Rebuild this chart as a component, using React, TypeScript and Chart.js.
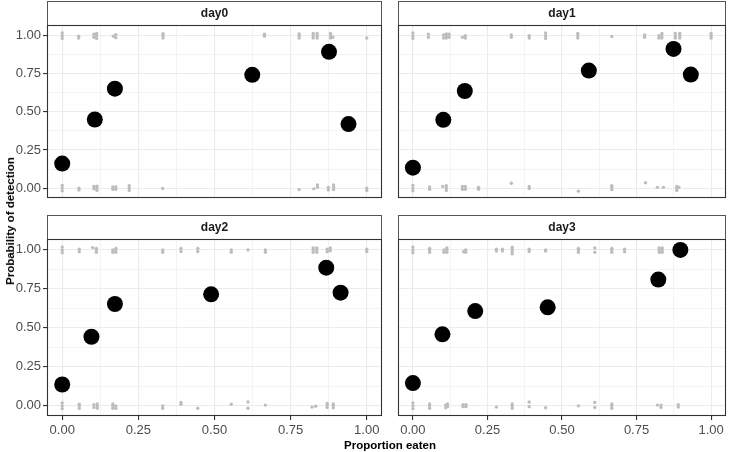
import React, { useEffect, useRef } from "react";
import { Chart, registerables } from "chart.js";

Chart.register(...registerables);

// ---------- data ----------
const facetNames = ["day0", "day1", "day2", "day3"];

const majorTicks = [0, 0.25, 0.5, 0.75, 1];
const minorTicks = [0.125, 0.375, 0.625, 0.875];
const tickLabels = ["0.00", "0.25", "0.50", "0.75", "1.00"];

const xTitle = "Proportion eaten";
const yTitle = "Probability of detection";

// mean detection probability per bin (black points)
const day0Eaten = [0, 0.107, 0.173, 0.624, 0.876, 0.94];
const day0Detect = [0.161, 0.45, 0.652, 0.743, 0.894, 0.42];
const day1Eaten = [0, 0.102, 0.174, 0.59, 0.874, 0.932];
const day1Detect = [0.134, 0.448, 0.637, 0.771, 0.913, 0.745];
const day2Eaten = [0, 0.096, 0.173, 0.489, 0.867, 0.914];
const day2Detect = [0.137, 0.443, 0.653, 0.715, 0.886, 0.726];
const day3Eaten = [0, 0.099, 0.209, 0.452, 0.823, 0.897];
const day3Detect = [0.146, 0.459, 0.608, 0.632, 0.81, 1.0];

// raw jittered observations: [x, y1, y2, ...]
const day0Raw: number[][] = [
  [0, 0.982, 1, 1.018], [0.054, 0.985, 0.997], [0.104, 0.99, 1.01], [0.113, 0.982, 1.0, 1.015],
  [0.168, 0.997], [0.176, 0.987, 1.007], [0.331, 0.985, 1.0, 1.013], [0.664, 0.997, 1.01],
  [0.778, 0.985, 1.0, 1.012], [0.824, 0.985, 1.0, 1.015], [0.837, 0.985, 1.0, 1.015],
  [0.881, 0.985, 1.0, 1.015], [0.889, 0.99], [1.0, 0.985],
  [0, -0.018, 0, 0.018], [0.055, -0.012, 0.0], [0.104, -0.005, 0.01], [0.114, -0.015, 0.0, 0.012],
  [0.166, -0.008, 0.008], [0.176, -0.008, 0.008], [0.22, -0.015, 0.0, 0.015], [0.33, -0.003],
  [0.778, -0.01], [0.826, -0.005], [0.838, 0.005, 0.02], [0.874, -0.012, 0.005],
  [0.891, -0.01, 0.005, 0.02], [1.0, -0.015, 0.0],
];
const day1Raw: number[][] = [
  [0, 0.982, 1.0, 1.018], [0.052, 0.99, 1.01], [0.103, 0.985, 1.005], [0.112, 0.985, 1.0, 1.012],
  [0.121, 0.99, 1.01], [0.166, 0.99], [0.176, 0.985, 1.0], [0.33, 0.99, 1.005], [0.39, 0.985, 1.0],
  [0.445, 0.982, 1.0, 1.018], [0.553, 0.985, 1.0, 1.015], [0.667, 0.995], [0.777, 0.99, 1.005],
  [0.825, 0.985, 1.0], [0.835, 0.985, 1.0, 1.015], [0.88, 0.985, 1.0, 1.015],
  [0.895, 0.985, 1.0, 1.015], [1.0, 0.985, 1.0, 1.015],
  [0, -0.018, 0, 0.018], [0.056, -0.008, 0.008], [0.1, 0.01], [0.112, -0.015, 0.0, 0.015],
  [0.166, -0.008, 0.01], [0.176, -0.008, 0.01], [0.22, -0.008, 0.005], [0.33, 0.032],
  [0.39, -0.003, 0.01], [0.555, -0.02], [0.667, -0.01, 0.005, 0.015], [0.78, 0.035],
  [0.82, 0.005], [0.84, 0.005], [0.885, -0.015, 0.0, 0.01], [0.892, 0.005],
];
const day2Raw: number[][] = [
  [0, 0.982, 1.0, 1.018], [0.056, 0.988, 1.005], [0.1, 1.015], [0.112, 0.985, 1.0, 1.01],
  [0.166, 0.985, 1.0], [0.176, 0.985, 1.0, 1.01], [0.33, 0.985, 1.0], [0.39, 0.99, 1.01],
  [0.445, 0.99, 1.01], [0.555, 0.985, 1.0], [0.61, 1.0], [0.667, 0.985, 1.0],
  [0.824, 0.985, 1.0, 1.012], [0.836, 0.985, 1.0, 1.012], [0.87, 0.988, 1.005],
  [0.88, 0.995, 1.012], [1.0, 0.99, 1.005],
  [0, -0.018, 0, 0.018], [0.056, -0.015, 0.0, 0.01], [0.104, -0.01, 0.008], [0.115, -0.015, 0.0, 0.012],
  [0.166, -0.015, 0.0, 0.012], [0.176, -0.015, 0.0], [0.33, -0.015, 0.0], [0.39, 0.022, 0.01],
  [0.445, -0.015], [0.555, 0.01], [0.61, 0.025, -0.015], [0.667, 0.005], [0.82, -0.008],
  [0.832, -0.002], [0.87, -0.01, 0.005, 0.015], [0.89, -0.012, 0.003, 0.012],
];
const day3Raw: number[][] = [
  [0, 0.982, 1.0, 1.018], [0.056, 0.985, 1.0, 1.01], [0.104, 0.985, 1.0], [0.114, 0.985, 1.0, 1.012],
  [0.17, 0.988], [0.177, 0.985, 1.0], [0.28, 0.993, 1.005], [0.3, 0.993, 1.005],
  [0.333, 0.975, 0.99, 1.005, 1.018], [0.39, 0.99, 1.005], [0.445, 0.993, 1.0],
  [0.555, 0.985, 1.0, 1.01], [0.61, 0.985, 1.012], [0.667, 0.985, 1.0, 1.01], [0.71, 0.988, 1.005],
  [0.826, 0.985, 1.0, 1.012], [0.836, 0.985, 1.0, 1.012],
  [0, -0.018, 0, 0.018], [0.056, -0.015, 0.0, 0.012], [0.11, -0.012, 0.005], [0.116, -0.005, 0.012],
  [0.168, -0.005, 0.008], [0.178, -0.005, 0.008], [0.28, -0.008], [0.333, -0.015, 0.0, 0.012],
  [0.39, 0.025, -0.005], [0.445, -0.012], [0.555, 0.0], [0.61, 0.022, -0.01],
  [0.667, -0.015, 0.0, 0.012], [0.82, 0.005], [0.832, -0.01, 0.005], [0.89, -0.008, 0.008],
];

const facetEaten = [day0Eaten, day1Eaten, day2Eaten, day3Eaten];
const facetDetect = [day0Detect, day1Detect, day2Detect, day3Detect];
const facetRaw = [day0Raw, day1Raw, day2Raw, day3Raw];

// ---------- styling / layout ----------
const FONT = "'Liberation Sans', Arial, Helvetica, sans-serif";
const X_MIN = -0.05, X_MAX = 1.05;
const Y_MIN = -0.065, Y_MAX = 1.07;

type Box = { left: number; top: number; width: number; height: number; pad: any; yW: number; xH: number; showX: boolean; showY: boolean };
const boxes: Box[] = [
  { left: 0, top: 0, width: 390, height: 206, pad: { top: 25, right: 5, bottom: 3, left: 0 }, yW: 47, xH: 0, showX: false, showY: true },
  { left: 390, top: 0, width: 344, height: 206, pad: { top: 25, right: 1, bottom: 3, left: 5 }, yW: 0, xH: 0, showX: false, showY: false },
  { left: 0, top: 206, width: 390, height: 246, pad: { top: 33, right: 5, bottom: 0, left: 0 }, yW: 47, xH: 36, showX: true, showY: true },
  { left: 390, top: 206, width: 344, height: 246, pad: { top: 33, right: 1, bottom: 0, left: 5 }, yW: 0, xH: 36, showX: true, showY: false },
];

const allTicks = [...majorTicks, ...minorTicks].sort((a, b) => a - b);
const isMajor = (v: number) => majorTicks.some((m) => Math.abs(m - v) < 1e-9);
const labelFor = (v: number) => {
  const i = majorTicks.findIndex((m) => Math.abs(m - v) < 1e-9);
  return i >= 0 ? tickLabels[i] : "";
};

const facetPlugin = {
  id: "facetStrip",
  afterDraw(chart: any, _args: any, opts: any) {
    const { ctx, chartArea: a } = chart;
    const stripH = 24;
    ctx.save();
    ctx.fillStyle = "#ffffff";
    ctx.fillRect(a.left, a.top - stripH, a.right - a.left, stripH);
    ctx.strokeStyle = "#555555";
    ctx.lineWidth = 1;
    ctx.strokeRect(a.left + 0.5, a.top - stripH + 0.5, a.right - a.left - 1, stripH);
    ctx.fillStyle = "#1a1a1a";
    ctx.font = `bold 12px ${FONT}`;
    ctx.textAlign = "center";
    ctx.textBaseline = "middle";
    ctx.fillText(opts.title, (a.left + a.right) / 2, a.top - stripH / 2 + 0.5);
    ctx.strokeStyle = "#333333";
    ctx.lineWidth = 1.1;
    ctx.strokeRect(a.left + 0.5, a.top + 0.5, a.right - a.left - 1, a.bottom - a.top - 1);
    ctx.restore();
  },
};

function Facet({ index }: { index: number }) {
  const ref = useRef<HTMLCanvasElement | null>(null);
  const box = boxes[index];
  useEffect(() => {
    if (!ref.current) return;
    const rawPoints: { x: number; y: number }[] = [];
    facetRaw[index].forEach((row) => {
      for (let k = 1; k < row.length; k++) rawPoints.push({ x: row[0], y: row[k] });
    });
    const meanPoints = facetEaten[index].map((x, i) => ({ x, y: facetDetect[index][i] }));
    const chart = new Chart(ref.current, {
      type: "scatter",
      data: {
        datasets: [
          { label: "mean", data: meanPoints, pointRadius: 8, pointHoverRadius: 8, backgroundColor: "#000000", borderWidth: 0 },
          { label: "raw", data: rawPoints, pointRadius: 1.7, pointHoverRadius: 1.7, backgroundColor: "#bdbdbd", borderWidth: 0 },
        ],
      },
      options: {
        animation: false,
        responsive: false,
        maintainAspectRatio: false,
        layout: { padding: box.pad },
        plugins: {
          legend: { display: false },
          tooltip: { enabled: false },
          facetStrip: { title: facetNames[index] },
        } as any,
        scales: {
          x: {
            type: "linear",
            min: X_MIN,
            max: X_MAX,
            afterBuildTicks: (s: any) => { s.ticks = allTicks.map((v) => ({ value: v })); },
            afterFit: (s: any) => { s.height = box.xH; s.paddingLeft = 0; s.paddingRight = 0; },
            border: { display: false },
            grid: {
              color: "#ebebeb",
              lineWidth: (c: any) => (isMajor(c.tick?.value) ? 1.1 : 0.55),
              drawTicks: box.showX,
              tickLength: 4,
              tickColor: (c: any) => (isMajor(c.tick?.value) ? "#333333" : "rgba(0,0,0,0)"),
            },
            ticks: {
              display: box.showX,
              autoSkip: false,
              maxRotation: 0,
              padding: 3,
              color: "#4d4d4d",
              font: { family: FONT, size: 13 },
              callback: (v: any) => labelFor(Number(v)),
            },
          },
          y: {
            type: "linear",
            min: Y_MIN,
            max: Y_MAX,
            afterBuildTicks: (s: any) => { s.ticks = allTicks.map((v) => ({ value: v })); },
            afterFit: (s: any) => { s.width = box.yW; s.paddingTop = 0; s.paddingBottom = 0; },
            border: { display: false },
            grid: {
              color: "#ebebeb",
              lineWidth: (c: any) => (isMajor(c.tick?.value) ? 1.1 : 0.55),
              drawTicks: box.showY,
              tickLength: 4,
              tickColor: (c: any) => (isMajor(c.tick?.value) ? "#333333" : "rgba(0,0,0,0)"),
            },
            ticks: {
              display: box.showY,
              autoSkip: false,
              padding: 2,
              color: "#4d4d4d",
              font: { family: FONT, size: 13 },
              callback: (v: any) => labelFor(Number(v)),
            },
          },
        },
      },
      plugins: [facetPlugin],
    });
    return () => chart.destroy();
  }, [index]);
  return (
    <canvas
      ref={ref}
      width={box.width}
      height={box.height}
      style={{ position: "absolute", left: box.left, top: box.top, width: box.width, height: box.height }}
    />
  );
}

export default function App() {
  return (
    <div style={{ position: "fixed", left: 0, top: 0, width: 734, height: 452, background: "#ffffff", overflow: "hidden", fontFamily: FONT }}>
      {facetNames.map((_, i) => (
        <Facet key={i} index={i} />
      ))}
      <div
        style={{
          position: "absolute", left: 47, width: 686, top: 438, height: 14, lineHeight: "14px",
          textAlign: "center", fontWeight: "bold", fontSize: 11.5, color: "#000000", whiteSpace: "nowrap",
        }}
      >
        {xTitle}
      </div>
      <div
        style={{
          position: "absolute", left: 10, top: 221, transform: "translate(-50%, -50%) rotate(-90deg)",
          fontWeight: "bold", fontSize: 11.5, color: "#000000", whiteSpace: "nowrap", lineHeight: "14px",
        }}
      >
        {yTitle}
      </div>
    </div>
  );
}
